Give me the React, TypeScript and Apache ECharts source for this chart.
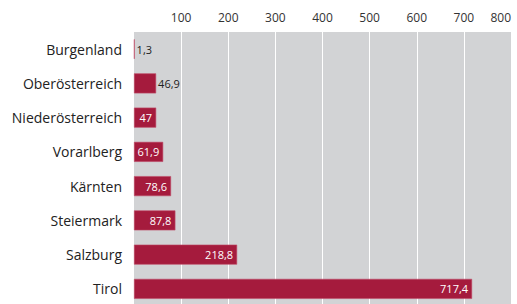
import React, { useEffect, useRef } from "react";
import * as echarts from "echarts";

const categories = ["Burgenland", "Oberösterreich", "Niederösterreich", "Vorarlberg", "Kärnten", "Steiermark", "Salzburg", "Tirol"];
const values = [1.3, 46.9, 47, 61.9, 78.6, 87.8, 218.8, 717.4];
const labelOutside = [true, true, false, false, false, false, false, false];
const axisMin = 0;
const axisMax = 800;
const axisInterval = 100;

const FONT = "'Open Sans', 'Noto Sans', sans-serif";
const fmt = (v: number) => String(v).replace(".", ",");

export default function App() {
  const ref = useRef<HTMLDivElement>(null);
  useEffect(() => {
    if (!ref.current) return;
    document.body.style.margin = "0";
    const chart = echarts.init(ref.current, undefined, { renderer: "svg", width: 517, height: 304 });
    chart.setOption({
      animation: false,
      grid: {
        left: 134,
        width: 377,
        top: 32,
        height: 274,
        show: true,
        backgroundColor: "#d2d3d5",
        borderWidth: 0,
        outerBoundsMode: "none",
        containLabel: false,
      },
      xAxis: {
        type: "value",
        position: "top",
        min: axisMin,
        max: axisMax,
        interval: axisInterval,
        axisLine: { show: false },
        axisTick: { show: false },
        axisLabel: {
          showMinLabel: false,
          alignMaxLabel: "right",
          margin: 9,
          fontSize: 12,
          color: "#333",
          fontFamily: FONT,
        },
        splitLine: { show: true, showMinLine: false, showMaxLine: false, lineStyle: { color: "#ffffff", width: 1 } },
      },
      yAxis: {
        type: "category",
        data: categories,
        inverse: true,
        axisLine: { show: false },
        axisTick: { show: false },
        axisLabel: { margin: 12, fontSize: 14, color: "#222", fontFamily: FONT },
        splitLine: { show: false },
      },
      series: [
        {
          type: "bar",
          barWidth: 20,
          data: values.map((v, i) => ({
            value: v,
            label: labelOutside[i]
              ? { show: true, position: "right", distance: 2, color: "#222" }
              : { show: true, position: "insideRight", distance: 4, color: "#fff" },
          })),
          itemStyle: { color: "#a51b3d", borderColor: "#c04a66", borderWidth: 0.6 },
          label: {
            show: true,
            fontSize: 11,
            fontFamily: FONT,
            formatter: (p: any) => fmt(p.value),
          },
        },
      ],
    });
    return () => chart.dispose();
  }, []);
  return <div ref={ref} style={{ width: 517, height: 304 }} />;
}
